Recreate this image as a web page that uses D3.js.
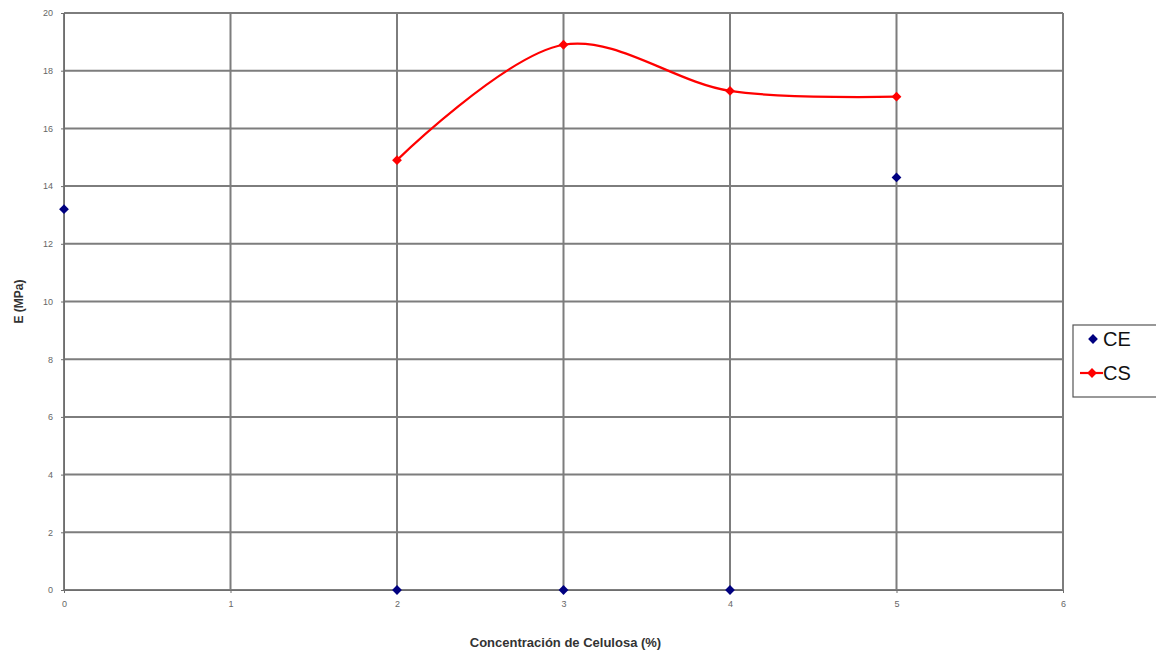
<!DOCTYPE html>
<html lang="es">
  <head>
    <meta charset="utf-8" />
    <title>E vs Concentración de Celulosa</title>
    <style>
      html, body { margin: 0; padding: 0; background: #fff; }
      svg { display: block; font-family: "Liberation Sans", Arial, sans-serif; }
      .grid line { stroke: #7d7d7d; stroke-width: 2; }
      .axis path, .axis line { stroke: #6e6e6e; }
      .axis text { fill: #666; font-size: 9px; }
    </style>
  </head>
  <body>
    <svg id="chart" width="1156" height="656"></svg>
    <script src="https://d3js.org/d3.v7.min.js"></script>
    <script>
      // x ticks and y ticks
      var xTicks = [0, 1, 2, 3, 4, 5, 6];
      var yTicks = [0, 2, 4, 6, 8, 10, 12, 14, 16, 18, 20];

      // CE series (markers only)
      var ceX = [0, 2, 3, 4, 5];
      var ceY = [13.2, 0, 0, 0, 14.3];

      // CS series (smoothed line + markers)
      var csX = [2, 3, 4, 5];
      var csY = [14.9, 18.9, 17.3, 17.1];

      var seriesNames = ["CE", "CS"];
      var seriesColors = ["#000080", "#ff0000"];

      var margin = { top: 13, right: 93, bottom: 66, left: 64 },
        width = 1156 - margin.left - margin.right,
        height = 656 - margin.top - margin.bottom;

      var svg = d3.select("#chart");
      var chart = svg
        .append("g")
        .attr("transform", "translate(" + margin.left + "," + margin.top + ")");

      var xScale = d3.scaleLinear().domain([0, 6]).range([0, width]);
      var yScale = d3.scaleLinear().domain([0, 20]).range([height, 0]);

      // gridlines
      chart
        .append("g")
        .attr("class", "grid")
        .selectAll("line")
        .data(yTicks)
        .join("line")
        .attr("x1", 0)
        .attr("x2", width)
        .attr("y1", (d) => yScale(d))
        .attr("y2", (d) => yScale(d));

      chart
        .append("g")
        .attr("class", "grid")
        .selectAll("line")
        .data(xTicks)
        .join("line")
        .attr("y1", 0)
        .attr("y2", height)
        .attr("x1", (d) => xScale(d))
        .attr("x2", (d) => xScale(d));

      // axes
      chart
        .append("g")
        .attr("class", "axis")
        .attr("transform", "translate(0," + height + ")")
        .call(
          d3.axisBottom(xScale).tickValues(xTicks).tickFormat(d3.format("d")).tickSize(3).tickPadding(8)
        );

      chart
        .append("g")
        .attr("class", "axis")
        .call(
          d3.axisLeft(yScale).tickValues(yTicks).tickFormat(d3.format("d")).tickSize(3).tickPadding(8)
        );

      // axis titles
      chart
        .append("text")
        .attr("x", width / 2 + 2)
        .attr("y", height + 57)
        .attr("text-anchor", "middle")
        .style("font-size", "13px")
        .style("font-weight", "bold")
        .style("fill", "#333")
        .text("Concentración de Celulosa (%)");

      chart
        .append("text")
        .attr("transform", "translate(-41," + height / 2 + ") rotate(-90)")
        .attr("text-anchor", "middle")
        .style("font-size", "12px")
        .style("font-weight", "bold")
        .style("fill", "#333")
        .text("E (MPa)");

      // square rotated 45 degrees gives Excel-style diamond
      var diamond = d3.symbol().type(d3.symbolSquare).size(48);
      var place = (d) => "translate(" + xScale(d[0]) + "," + yScale(d[1]) + ") rotate(45)";

      // CS smoothed line
      var line = d3
        .line()
        .x((d) => xScale(d[0]))
        .y((d) => yScale(d[1]))
        .curve(d3.curveCatmullRom.alpha(0.5));

      var csData = csX.map((x, i) => [x, csY[i]]);
      chart
        .append("path")
        .datum(csData)
        .attr("fill", "none")
        .attr("stroke", seriesColors[1])
        .attr("stroke-width", 2.2)
        .attr("d", line);

      chart
        .selectAll("path.cs")
        .data(csData)
        .join("path")
        .attr("class", "cs")
        .attr("d", diamond)
        .attr("fill", seriesColors[1])
        .attr("transform", place);

      var ceData = ceX.map((x, i) => [x, ceY[i]]);
      chart
        .selectAll("path.ce")
        .data(ceData)
        .join("path")
        .attr("class", "ce")
        .attr("d", diamond)
        .attr("fill", seriesColors[0])
        .attr("transform", place);

      // legend
      var legend = svg.append("g").attr("transform", "translate(1073,325)");
      legend
        .append("rect")
        .attr("width", 100)
        .attr("height", 72)
        .attr("fill", "#fff")
        .attr("stroke", "#555")
        .attr("stroke-width", 1.2);

      seriesNames.forEach(function (name, i) {
        var g = legend.append("g").attr("transform", "translate(0," + (14 + i * 34) + ")");
        if (i === 1) {
          g.append("line")
            .attr("x1", 7)
            .attr("x2", 30)
            .attr("y1", 0)
            .attr("y2", 0)
            .attr("stroke", seriesColors[i])
            .attr("stroke-width", 2.2);
        }
        g.append("path")
          .attr("d", diamond)
          .attr("fill", seriesColors[i])
          .attr("transform", "translate(" + (i === 1 ? 19 : 20) + ",0) rotate(45)");
        g.append("text")
          .attr("x", 30)
          .attr("y", 0)
          .attr("dy", "0.36em")
          .style("font-size", "20px")
          .style("fill", "#111")
          .text(name);
      });
    </script>
  </body>
</html>
